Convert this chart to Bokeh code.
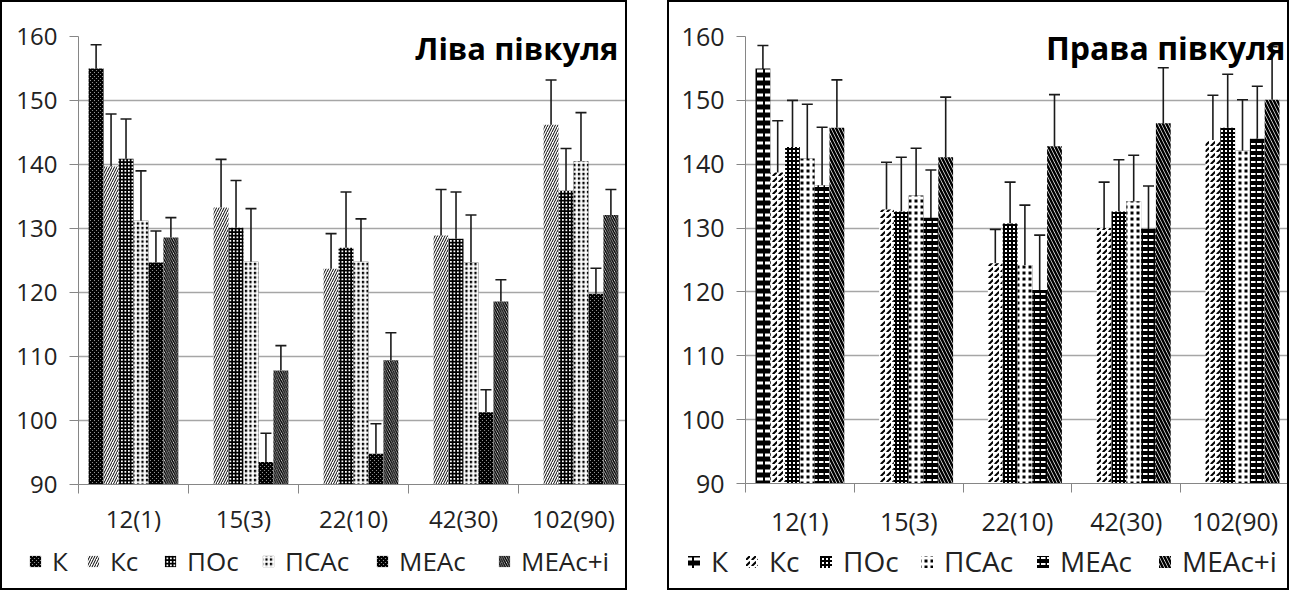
from bokeh.plotting import figure
from bokeh.models import (FactorRange, Range1d, ColumnDataSource, Whisker, TeeHead, Legend,
                          LegendItem, LinearAxis, FixedTicker, Label)
from bokeh.transform import dodge
from bokeh.layouts import row, column
from bokeh.embed import file_html
from bokeh.resources import INLINE

categories = ["12(1)", "15(3)", "22(10)", "42(30)", "102(90)"]
series = ["К", "Кс", "ПОс", "ПСАс", "МЕАс", "МЕАс+і"]
y_ticks = [90, 100, 110, 120, 130, 140, 150, 160]

# Left hemisphere
left_k = [155.0, None, None, None, None]
left_kc = [139.7, 133.3, 123.7, 128.9, 146.2]
left_poc = [140.9, 130.1, 127.0, 128.4, 135.9]
left_psac = [131.2, 124.8, 124.8, 124.7, 140.5]
left_meac = [124.7, 93.5, 94.8, 101.3, 119.8]
left_meaci = [128.6, 107.8, 109.4, 118.6, 132.1]
left_k_err = [3.7, 0, 0, 0, 0]
left_kc_err = [8.2, 7.5, 5.5, 7.2, 7.0]
left_poc_err = [6.2, 7.4, 8.7, 7.3, 6.6]
left_psac_err = [7.8, 8.3, 6.7, 7.4, 7.6]
left_meac_err = [4.9, 4.5, 4.7, 3.5, 4.0]
left_meaci_err = [3.1, 3.9, 4.3, 3.4, 4.0]

# Right hemisphere
right_k = [155.0, None, None, None, None]
right_kc = [138.7, 132.9, 124.5, 130.0, 143.8]
right_poc = [142.7, 132.6, 130.7, 132.6, 145.7]
right_psac = [140.9, 135.1, 124.2, 134.2, 142.1]
right_meac = [136.7, 131.6, 120.3, 129.9, 144.0]
right_meaci = [145.7, 141.1, 142.8, 146.4, 150.1]
right_k_err = [3.6, 0, 0, 0, 0]
right_kc_err = [8.1, 7.4, 5.3, 7.2, 7.0]
right_poc_err = [7.3, 8.5, 6.5, 8.1, 8.4]
right_psac_err = [8.5, 7.4, 9.4, 7.2, 8.0]
right_meac_err = [9.1, 7.5, 8.6, 6.7, 8.2]
right_meaci_err = [7.5, 9.4, 8.1, 8.7, 8.3]

FONT = "Open Sans"
BAR_W = 0.136
AXIS_GRAY = "#868686"
TEXT = "#222222"

left_styles = [
    dict(fill_color="white", hatch_pattern="diagonal_cross", hatch_color="black", hatch_scale=4, hatch_weight=2.4),
    dict(fill_color="white", hatch_pattern="right_diagonal_line", hatch_color="black", hatch_scale=5, hatch_weight=1),
    dict(fill_color="white", hatch_pattern="cross", hatch_color="black", hatch_scale=3.5, hatch_weight=2),
    dict(fill_color="black", hatch_pattern="cross", hatch_color="white", hatch_scale=4.5, hatch_weight=2.2),
    dict(fill_color="white", hatch_pattern="diagonal_cross", hatch_color="black", hatch_scale=4, hatch_weight=2.4),
    dict(fill_color="white", hatch_pattern="left_diagonal_line", hatch_color="black", hatch_scale=4.5, hatch_weight=1.5),
]
right_styles = [
    dict(fill_color="black", hatch_pattern="horizontal_dash", hatch_color="white", hatch_scale=8, hatch_weight=3),
    dict(fill_color="white", hatch_pattern="right_diagonal_dash", hatch_color="black", hatch_scale=6, hatch_weight=2),
    dict(fill_color="white", hatch_pattern="cross", hatch_color="black", hatch_scale=4, hatch_weight=2),
    dict(fill_color="black", hatch_pattern="cross", hatch_color="white", hatch_scale=6, hatch_weight=3),
    dict(fill_color="black", hatch_pattern="horizontal_dash", hatch_color="white", hatch_scale=6, hatch_weight=2),
    dict(fill_color="white", hatch_pattern="left_diagonal_line", hatch_color="black", hatch_scale=7, hatch_weight=2.5),
]

# legend item left edges inside each chart box (layout, px)
left_legend_x = [26, 84, 161, 259, 373, 495]
right_legend_x = [17, 75, 149, 250, 366, 488]


def make_chart(title, vals, errs, styles, frame_w, frame_left, frame_right, font_px,
               label_standoff, title_px, title_dx, legend_font_px, glyph_px, legend_standoff,
               legend_x, legend_h, legend_y):
    total_w = frame_left + frame_w + frame_right
    p = figure(width=total_w, height=34 + 448 + 56,
               x_range=FactorRange(factors=categories, range_padding=0),
               y_range=Range1d(y_ticks[0], y_ticks[-1]),
               output_backend="svg", toolbar_location=None, x_axis_location=None,
               min_border_left=frame_left, min_border_right=frame_right,
               min_border_top=34, min_border_bottom=56)
    p.outline_line_color = None
    p.xgrid.grid_line_color = None
    p.ygrid.grid_line_color = "#a6a6a6"
    p.ygrid.grid_line_width = 1.5
    p.yaxis.ticker = FixedTicker(ticks=y_ticks)
    p.yaxis.axis_line_color = AXIS_GRAY
    p.yaxis.major_tick_line_color = AXIS_GRAY
    p.yaxis.major_tick_out = 9
    p.yaxis.major_tick_in = 0
    p.yaxis.minor_tick_line_color = None
    p.yaxis.major_label_text_font = FONT
    p.yaxis.major_label_text_font_size = f"{font_px}px"
    p.yaxis.major_label_text_color = TEXT
    p.yaxis.major_label_standoff = 12

    # x axis: labels at category centres, tick marks at category boundaries
    centres = [i + 0.5 for i in range(len(categories))]
    bounds = list(range(len(categories) + 1))
    x_axis = LinearAxis(ticker=FixedTicker(ticks=centres, minor_ticks=bounds),
                        major_label_overrides={c: lab for c, lab in zip(centres, categories)},
                        major_tick_out=0, major_tick_in=0, major_tick_line_color=None,
                        minor_tick_out=9, minor_tick_in=0, minor_tick_line_color=AXIS_GRAY,
                        axis_line_color=AXIS_GRAY,
                        major_label_text_font=FONT, major_label_text_font_size=f"{font_px}px",
                        major_label_text_color=TEXT, major_label_standoff=label_standoff)
    p.add_layout(x_axis, "below")

    # legend strip underneath the chart, sharing the bar styles
    leg = figure(width=total_w, height=legend_h, x_range=Range1d(0, 1), y_range=Range1d(0, 1),
                 output_backend="svg", toolbar_location=None, x_axis_location=None,
                 y_axis_location=None, min_border_left=0, min_border_right=0,
                 min_border_top=0, min_border_bottom=0)
    leg.outline_line_color = None
    leg.grid.grid_line_color = None

    n = len(series)
    for i, (name, v, e, st) in enumerate(zip(series, vals, errs, styles)):
        off = (i - (n - 1) / 2) * BAR_W
        keep = [j for j, x in enumerate(v) if x is not None]
        cats = [categories[j] for j in keep]
        tops = [v[j] for j in keep]
        ee = [e[j] for j in keep]
        src = ColumnDataSource(dict(cat=cats, top=tops,
                                    upper=[t + d for t, d in zip(tops, ee)],
                                    lower=[t - d for t, d in zip(tops, ee)]))
        p.vbar(x=dodge("cat", off, range=p.x_range), top="top", bottom=y_ticks[0],
               width=BAR_W, source=src, line_color=None, **st)
        w = Whisker(base=dodge("cat", off, range=p.x_range), upper="upper", lower="lower",
                    source=src, line_color="#1a1a1a", line_width=1.6,
                    upper_head=TeeHead(size=11, line_color="#1a1a1a", line_width=1.6),
                    lower_head=TeeHead(size=11, line_color="#1a1a1a", line_width=1.6))
        p.add_layout(w)
        # same series in the strip (its values lie outside the strip's 0..1 range)
        r = leg.vbar(x="top", top="top", bottom=y_ticks[0], width=BAR_W, source=src,
                     line_color=None, **st)
        legend = Legend(items=[LegendItem(label=name, renderers=[r])],
                        location=(legend_x[i], legend_y),
                        label_text_font=FONT, label_text_font_size=f"{legend_font_px}px",
                        label_text_color=TEXT, glyph_width=glyph_px, glyph_height=glyph_px,
                        label_standoff=legend_standoff, border_line_color=None,
                        background_fill_alpha=0, padding=0, margin=0)
        leg.add_layout(legend, "center")

    p.add_layout(Label(x=len(categories), y=y_ticks[-1], x_offset=title_dx, y_offset=-11,
                       text=title, text_align="right", text_baseline="middle",
                       text_font=FONT, text_font_style="bold", text_font_size=f"{title_px}px",
                       text_color="black"))
    p.styles = {"border": "2px solid black", "border-bottom": "none", "box-sizing": "border-box"}
    leg.styles = {"border": "2px solid black", "border-top": "none", "box-sizing": "border-box"}
    return column(p, row(leg), spacing=0)


c1 = make_chart("Ліва півкуля",
                [left_k, left_kc, left_poc, left_psac, left_meac, left_meaci],
                [left_k_err, left_kc_err, left_poc_err, left_psac_err, left_meac_err, left_meaci_err],
                left_styles, 550, 76, 1, 24, 8, 31, -10, 26, 14, 10, left_legend_x, 52, 11)
c2 = make_chart("Права півкуля",
                [right_k, right_kc, right_poc, right_psac, right_meac, right_meaci],
                [right_k_err, right_kc_err, right_poc_err, right_psac_err, right_meac_err, right_meaci_err],
                right_styles, 544, 76, 2, 25, 11, 32, -4, 28, 15, 10, right_legend_x, 52, 10)

layout = row(c1, c2, spacing=40)
open("out.html", "w").write(file_html(layout, INLINE))
